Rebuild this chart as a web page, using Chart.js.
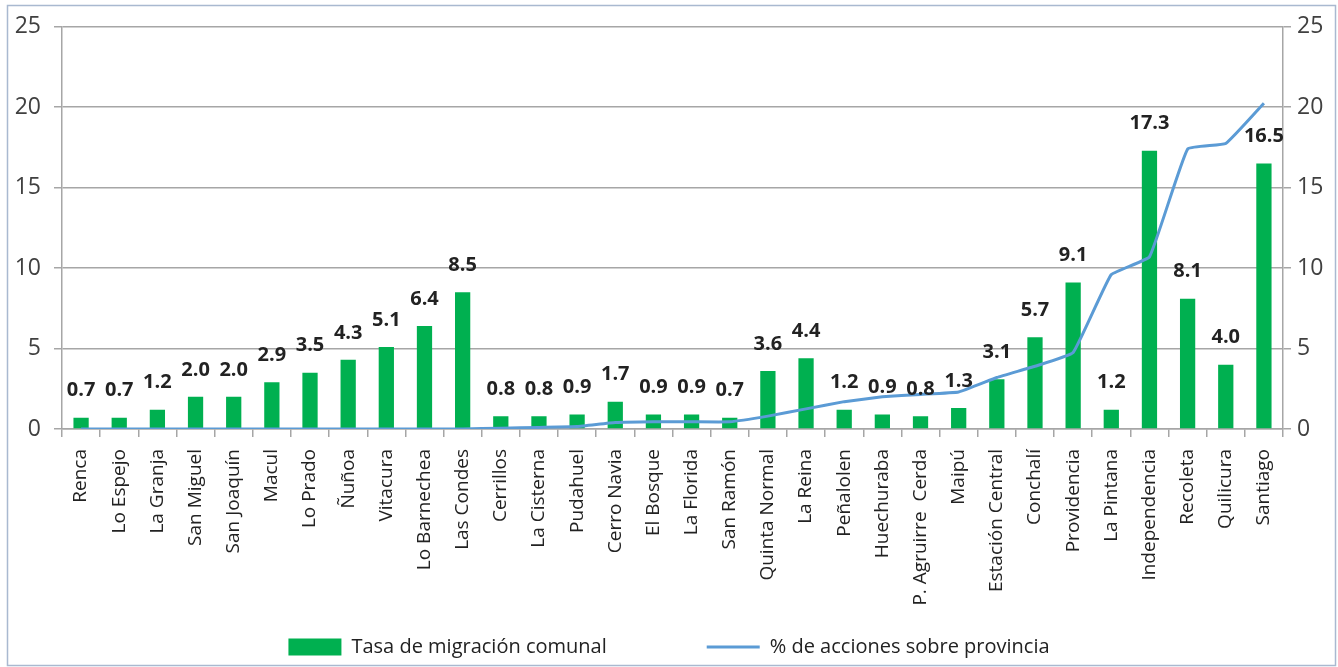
<!DOCTYPE html>
<html>
<head>
<meta charset="utf-8">
<script src="https://cdn.jsdelivr.net/npm/chart.js@4.4.1/dist/chart.umd.min.js"></script>
<style>
  html, body { margin: 0; padding: 0; background: #fff; }
  #wrap { position: relative; width: 1338px; height: 667px; }
</style>
</head>
<body>
<div id="wrap"><canvas id="c" width="1338" height="667"></canvas></div>
<script>
// --- data --------------------------------------------------------------
var comunas = ['Renca', 'Lo Espejo', 'La Granja', 'San Miguel', 'San Joaquín', 'Macul',
  'Lo Prado', 'Ñuñoa', 'Vitacura', 'Lo Barnechea', 'Las Condes', 'Cerrillos',
  'La Cisterna', 'Pudahuel', 'Cerro Navia', 'El Bosque', 'La Florida', 'San Ramón',
  'Quinta Normal', 'La Reina', 'Peñalolen', 'Huechuraba', 'P. Agruirre  Cerda', 'Maipú',
  'Estación Central', 'Conchalí', 'Providencia', 'La Pintana', 'Independencia',
  'Recoleta', 'Quilicura', 'Santiago'];

var tasaMigracion = [0.7, 0.7, 1.2, 2.0, 2.0, 2.9, 3.5, 4.3, 5.1, 6.4, 8.5, 0.8, 0.8, 0.9,
  1.7, 0.9, 0.9, 0.7, 3.6, 4.4, 1.2, 0.9, 0.8, 1.3, 3.1, 5.7, 9.1, 1.2, 17.3, 8.1, 4.0, 16.5];

var pctAcciones = [0, 0, 0, 0, 0, 0, 0, 0, 0, 0, 0, 0.05, 0.1, 0.15, 0.4, 0.45, 0.45, 0.45,
  0.8, 1.25, 1.7, 2.0, 2.15, 2.3, 3.2, 3.9, 4.75, 9.6, 10.7, 17.4, 17.75, 20.25];

var yTicks = [0, 5, 10, 15, 20, 25];

var GREEN = '#00b050';
var BLUE = '#5b9bd5';
var GRID = '#a6a6a6';
var FONT = "'Open Sans', 'Noto Sans', sans-serif";

// bold value labels above the bars
var barLabels = {
  id: 'barLabels',
  afterDatasetsDraw: function (chart) {
    var meta = chart.getDatasetMeta(0);
    var ctx = chart.ctx;
    ctx.save();
    ctx.font = 'bold 20px ' + FONT;
    ctx.fillStyle = '#222';
    ctx.textAlign = 'center';
    ctx.textBaseline = 'middle';
    meta.data.forEach(function (bar, i) {
      ctx.fillText(tasaMigracion[i].toFixed(1), bar.x, bar.y - 27);
    });
    ctx.restore();
  }
};

// thin frame round the whole picture
var frame = {
  id: 'frame',
  beforeDraw: function (chart) {
    var ctx = chart.ctx;
    ctx.save();
    ctx.fillStyle = '#fff';
    ctx.fillRect(0, 0, chart.width, chart.height);
    ctx.strokeStyle = '#a9b9d0';
    ctx.lineWidth = 1.5;
    ctx.strokeRect(7.5, 5.5, chart.width - 10, chart.height - 7);
    ctx.restore();
  }
};

function fixedTicks(axis) {
  axis.ticks = yTicks.map(function (v) { return { value: v }; });
}

new Chart(document.getElementById('c').getContext('2d'), {
  type: 'bar',
  data: {
    labels: comunas,
    datasets: [
      {
        label: 'Tasa de migración comunal',
        data: tasaMigracion,
        backgroundColor: GREEN,
        barPercentage: 0.4,
        categoryPercentage: 1,
        yAxisID: 'y',
        order: 1,
        pointStyle: 'rect'
      },
      {
        type: 'line',
        label: '% de acciones sobre provincia',
        data: pctAcciones,
        borderColor: BLUE,
        backgroundColor: BLUE,
        borderWidth: 3,
        pointRadius: 0,
        tension: 0.1,
        yAxisID: 'y1',
        order: 0,
        pointStyle: 'line'
      }
    ]
  },
  options: {
    responsive: false,
    animation: false,
    layout: { padding: { top: 26, left: 0, right: 0, bottom: 0 } },
    plugins: {
      tooltip: { enabled: false },
      legend: {
        position: 'bottom',
        labels: {
          usePointStyle: true,
          pointStyleWidth: 53,
          boxHeight: 17,
          padding: 100,
          color: '#222',
          font: { family: FONT, size: 20 },
          sort: function (a, b) { return a.datasetIndex - b.datasetIndex; }
        }
      }
    },
    scales: {
      x: {
        grid: { display: true, offset: true, drawOnChartArea: false, drawTicks: true, tickLength: 8, color: GRID, lineWidth: 1.5 },
        border: { display: true, color: GRID, width: 1.5 },
        ticks: { autoSkip: false, minRotation: 90, maxRotation: 90, padding: 12, color: '#222', font: { family: FONT, size: 19 } },
        afterFit: function (s) {
          s.height = 108;
          // the long rotated names run down past the axis box; don't clip them
          s._computeLabelArea = function () { return undefined; };
        }
      },
      y: {
        position: 'left',
        min: 0, max: 25,
        afterBuildTicks: fixedTicks,
        grid: { color: GRID, lineWidth: 1.5, tickLength: 8 },
        border: { display: true, color: GRID, width: 1.5 },
        ticks: { padding: 13, color: '#404040', font: { family: FONT, size: 23 } },
        afterFit: function (s) { s.width = 62; }
      },
      y1: {
        position: 'right',
        min: 0, max: 25,
        afterBuildTicks: fixedTicks,
        grid: { drawOnChartArea: false, color: GRID, lineWidth: 1.5, tickLength: 8 },
        border: { display: true, color: GRID, width: 1.5 },
        ticks: { padding: 6, color: '#404040', font: { family: FONT, size: 23 } },
        afterFit: function (s) { s.width = 55; }
      }
    }
  },
  plugins: [frame, barLabels]
});
</script>
</body>
</html>
